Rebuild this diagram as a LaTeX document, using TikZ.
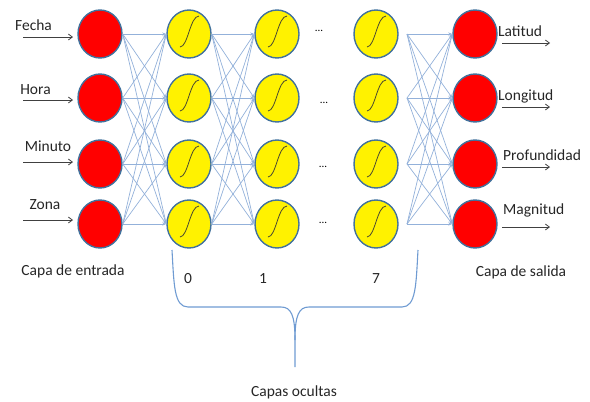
\documentclass[tikz,border=0pt]{standalone}
\usepackage{fontspec}
\setmainfont{Carlito}
\usetikzlibrary{shapes.geometric,arrows.meta}
\definecolor{nborder}{HTML}{41719C}
\definecolor{linkblue}{HTML}{93B1DA}
\definecolor{arrowgray}{HTML}{404040}
\definecolor{bracecol}{HTML}{6F9BD2}
\definecolor{sigcol}{HTML}{4A4A30}
\tikzset{
 neuron/.style={ellipse, draw=nborder, line width=1.4pt, minimum width=44pt, minimum height=48pt, inner sep=0pt},
 io/.style={neuron, fill=red},
 hid/.style={neuron, fill=yellow, path picture={
   \draw[sigcol, line width=0.8pt] ([shift={(-9pt,-13pt)}]path picture bounding box.center)
     .. controls ([shift={(-1pt,-13pt)}]path picture bounding box.center)
     and ([shift={(1pt,18pt)}]path picture bounding box.center)
     .. ([shift={(10pt,18pt)}]path picture bounding box.center);}},
 link/.style={draw=linkblue, line width=0.7pt, -{Stealth[length=4pt,width=3pt]}},
 feed/.style={draw=arrowgray, line width=0.8pt, -{Straight Barb[length=4pt,width=6pt]}},
 lbl/.style={font=\fontsize{15.5}{18}\selectfont, inner sep=0pt, text=black!85},
 dots/.style={font=\fontsize{11}{12}\selectfont, inner sep=0pt},
}
\begin{document}
\begin{tikzpicture}[x=1pt,y=-1pt]
\useasboundingbox (0,0) rectangle (590,402);
% rows
\def\ra{34}\def\rb{98}\def\rc{164}\def\rd{224}
% input nodes
\node[io] (i1) at (100,\ra) {};
\node[io] (i2) at (100,\rb) {};
\node[io] (i3) at (100,\rc) {};
\node[io] (i4) at (100,\rd) {};
% hidden 0
\node[hid] (a1) at (189,\ra) {};
\node[hid] (a2) at (189,\rb) {};
\node[hid] (a3) at (189,\rc) {};
\node[hid] (a4) at (189,\rd) {};
% hidden 1
\node[hid] (b1) at (277,\ra) {};
\node[hid] (b2) at (277,\rb) {};
\node[hid] (b3) at (277,\rc) {};
\node[hid] (b4) at (277,\rd) {};
% hidden 7
\node[hid] (c1) at (376,\ra) {};
\node[hid] (c2) at (376,\rb) {};
\node[hid] (c3) at (376,\rc) {};
\node[hid] (c4) at (376,\rd) {};
% output
\node[io] (o1) at (475,\ra) {};
\node[io] (o2) at (475,\rb) {};
\node[io] (o3) at (475,\rc) {};
\node[io] (o4) at (475,\rd) {};
% dots
\node[dots] (d1) at (319,31) {...};
\node[dots] (d2) at (324,103) {...};
\node[dots] (d3) at (323,167) {...};
\node[dots] (d4) at (323,223) {...};
% start points of last layer links
\coordinate (s1) at (407,\ra);
\coordinate (s2) at (407,\rb);
\coordinate (s3) at (407,\rc);
\coordinate (s4) at (407,\rd);
% links
\foreach \p in {1,2,3,4}{
  \foreach \q in {1,2,3,4}{
    \draw[link] (i\p.east) -- (a\q.west);
    \draw[link] (a\p.east) -- (b\q.west);
    \draw[link] (s\p) -- (o\q.west);
  }
}
% input labels and arrows
\node[lbl] (lf) at (33.5,25) {Fecha};
\node[lbl] (lh) at (35.5,90) {Hora};
\node[lbl] (lm) at (48,146) {Minuto};
\node[lbl] (lz) at (45,205) {Zona};
\coordinate (f1) at (23,37);  \coordinate (e1) at (73,37);
\coordinate (f2) at (23,100); \coordinate (e2) at (73,100);
\coordinate (f3) at (23,162); \coordinate (e3) at (73,162);
\coordinate (f4) at (23,220); \coordinate (e4) at (73,220);
\foreach \k in {1,2,3,4}{\draw[feed] (f\k) -- (e\k);}
% output labels and arrows
\node[lbl, anchor=west] (ll1) at (498,31) {Latitud};
\node[lbl, anchor=west] (ll2) at (498,96) {Longitud};
\node[lbl, anchor=west] (ll3) at (503,155) {Profundidad};
\node[lbl, anchor=west] (ll4) at (503,210) {Magnitud};
\coordinate (g1) at (502,43);  \coordinate (h1) at (550,43);
\coordinate (g2) at (502,107); \coordinate (h2) at (550,107);
\coordinate (g3) at (502,167); \coordinate (h3) at (550,167);
\coordinate (g4) at (502,227); \coordinate (h4) at (550,227);
\foreach \k in {1,2,3,4}{\draw[feed] (g\k) -- (h\k);}
% layer captions
\node[lbl] (cin) at (73,271) {Capa de entrada};
\node[lbl] (cout) at (521,272) {Capa de salida};
\node[lbl] (n0) at (188,279) {0};
\node[lbl] (n1) at (263,279) {1};
\node[lbl] (n7) at (376,279) {7};
\node[lbl] (cocc) at (294,392) {Capas ocultas};
% brace
\draw[bracecol, line width=1.1pt]
  (172,250) .. controls (174,285) and (174,307) .. (188,307) -- (281,307)
  .. controls (291,307) and (295,315) .. (295,340) -- (295,367);
\draw[bracecol, line width=1.1pt]
  (418,250) .. controls (416,285) and (416,307) .. (402,307) -- (309,307)
  .. controls (299,307) and (295,315) .. (295,340);
\end{tikzpicture}
\end{document}
